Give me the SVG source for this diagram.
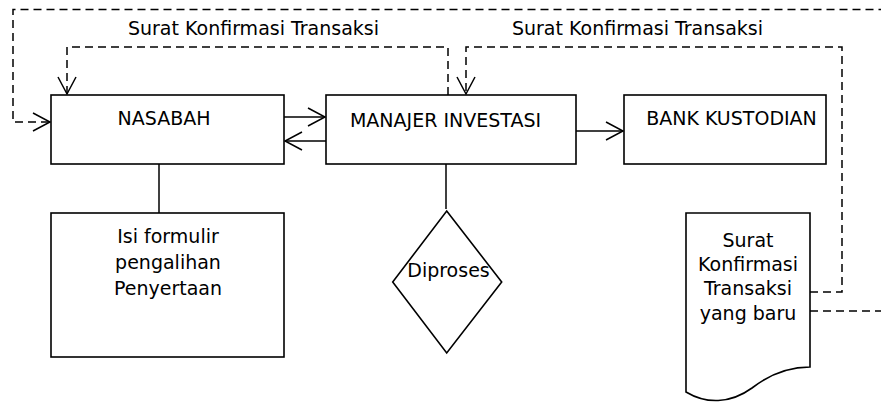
<svg xmlns="http://www.w3.org/2000/svg" width="881" height="403" viewBox="0 0 881 403">
<defs>
<style>
.box{fill:#fff;stroke:#000;stroke-width:1.6}
.ln{fill:none;stroke:#000;stroke-width:1.5}
.dash{fill:none;stroke:#000;stroke-width:1.5;stroke-dasharray:8,5}
text{font-family:"DejaVu Sans","Verdana",sans-serif;font-size:19px;fill:#000}
.c{text-anchor:middle}
</style>
<marker id="arr" viewBox="0 0 20 20" refX="18" refY="10" markerWidth="20" markerHeight="20" markerUnits="userSpaceOnUse" orient="auto">
<path d="M1,1 L18,10 L1,19" fill="none" stroke="#000" stroke-width="1.5"/>
</marker>
</defs>
<rect width="881" height="403" fill="#fff"/>
<g id="connectors">
<path class="dash" d="M810,311 H886 V9.5 H13 V122 H50" marker-end="url(#arr)"/>
<path class="dash" d="M448,95 V47 H67 V94" marker-end="url(#arr)"/>
<path class="dash" d="M810,292 H842 V47 H466 V94" marker-end="url(#arr)"/>
<path class="ln" d="M284,117 H325" marker-end="url(#arr)"/>
<path class="ln" d="M330,141 H285" marker-end="url(#arr)"/>
<path class="ln" d="M576,131 H623" marker-end="url(#arr)"/>
<path class="ln" d="M159,164 V213"/>
<path class="ln" d="M446,164 V209"/>
<text class="c" x="253.5" y="35">Surat Konfirmasi Transaksi</text>
<text class="c" x="637.5" y="35">Surat Konfirmasi Transaksi</text>
</g>
<g id="nasabah">
<rect class="box" x="51" y="95" width="233" height="69"/>
<text class="c" x="164" y="125">NASABAH</text>
</g>
<g id="manajer">
<rect class="box" x="326" y="95" width="250" height="69"/>
<text class="c" x="445.5" y="127">MANAJER INVESTASI</text>
</g>
<g id="bank">
<rect class="box" x="624" y="95" width="202" height="69"/>
<text class="c" x="731.5" y="125">BANK KUSTODIAN</text>
</g>
<g id="formulir">
<rect class="box" x="51" y="213" width="233" height="144"/>
<text class="c" x="168" y="243">Isi formulir</text>
<text class="c" x="168" y="269">pengalihan</text>
<text class="c" x="168" y="295">Penyertaan</text>
</g>
<g id="diproses">
<path class="box" d="M446.7,211 L501.7,282 L446.7,353 L392.7,282 Z"/>
<text class="c" x="448.5" y="277">Diproses</text>
</g>
<g id="surat-baru">
<path class="box" d="M686,213 H810 V367 C790,367 770,374 752,388 C730,404 706,404 686,392 Z"/>
<text class="c" x="748" y="247">Surat</text>
<text class="c" x="748" y="271">Konfirmasi</text>
<text class="c" x="748" y="295">Transaksi</text>
<text class="c" x="748" y="320">yang baru</text>
</g>
</svg>
